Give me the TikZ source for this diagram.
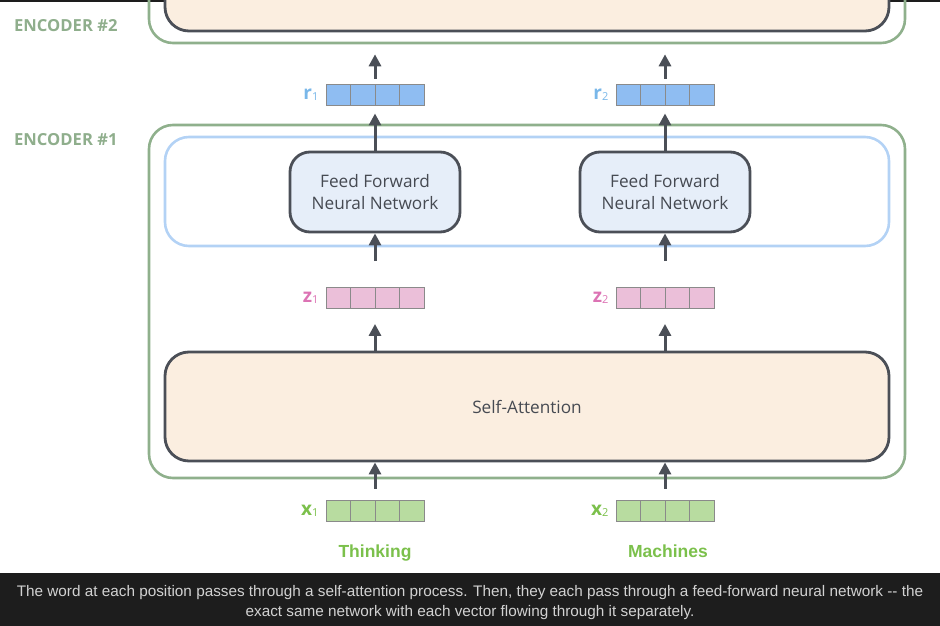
\documentclass[tikz,border=0pt]{standalone}
\usepackage{fontspec}
\setmainfont{Open Sans}
\newfontfamily\capfont{Liberation Sans}
\usetikzlibrary{positioning,arrows.meta}
\definecolor{encgreen}{HTML}{8FB08C}
\definecolor{enclabel}{HTML}{8FAE8C}
\definecolor{boxgray}{HTML}{4B4F57}
\definecolor{textgray}{HTML}{464A52}
\definecolor{attfill}{HTML}{FBEEE0}
\definecolor{fffill}{HTML}{E6EEF9}
\definecolor{ffline}{HTML}{B3D2F5}
\definecolor{rfill}{HTML}{8FBDF2}
\definecolor{rtext}{HTML}{79B7E9}
\definecolor{zfill}{HTML}{EBBFD9}
\definecolor{ztext}{HTML}{DC73B4}
\definecolor{xfill}{HTML}{B8DCA0}
\definecolor{xtext}{HTML}{7BC04B}
\definecolor{cellline}{HTML}{8A8A8A}
\definecolor{capbg}{HTML}{1D1D1D}
\definecolor{capgray}{HTML}{D2D2D2}
\newcommand\vlab[2]{#1\raisebox{-1pt}{\fontsize{11}{11}\selectfont\mdseries #2}}
\tikzset{
    encbox/.style={draw=encgreen, line width=2.6pt, rounded corners=24pt, minimum width=756pt, inner sep=0pt},
    attbox/.style={draw=boxgray, fill=attfill, line width=2.8pt, rounded corners=24pt, minimum width=724pt, inner sep=0pt, text=textgray, font=\fontsize{17.2}{20}\selectfont},
    ffgroup/.style={draw=ffline, line width=2.6pt, rounded corners=24pt, minimum width=724pt, minimum height=109pt},
    ffbox/.style={draw=boxgray, fill=fffill, line width=2.8pt, rounded corners=20pt, minimum width=170pt, minimum height=80pt, align=center, text=textgray, font=\fontsize{17.2}{22}\selectfont},
    enclab/.style={anchor=west, inner sep=0pt, text=enclabel, font=\fontsize{16.6}{18}\selectfont\bfseries},
    vec/.style={draw=cellline, line width=0.9pt, fill=#1, minimum width=98pt, minimum height=21pt, inner sep=0pt,
        path picture={\foreach \k in {1,2,3}
            \draw[cellline, line width=0.9pt] ([xshift={24.5pt*\k}]path picture bounding box.south west) -- ([xshift={24.5pt*\k}]path picture bounding box.north west);}},
    vlabel/.style={inner sep=0pt, label distance=7pt, text=#1, font=\fontsize{19}{19}\selectfont\bfseries},
    arr/.style={draw=boxgray, line width=3pt, -{Triangle[length=12pt,width=12pt]}},
    word/.style={anchor=base, font=\capfont\fontsize{17.5}{20}\selectfont\bfseries, text=xtext},
    captext/.style={font=\capfont\fontsize{15.3}{20}\selectfont, text=capgray, align=center}
}
\begin{document}
\begin{tikzpicture}[x=1pt,y=-1pt]
    \useasboundingbox (0,0) rectangle (940,626);
    \clip (0,0) rectangle (940,626);
    \fill[capbg] (0,0) rectangle (940,2.5);

    \node[encbox, minimum height=143pt] (enc2) at (527,-28.5) {};
    \node[attbox, minimum height=121pt] (att2) at (527,-29.5) {};
    \node[enclab] (lab2) at (14,26) {ENCODER \#2};

    \node[encbox, minimum height=353pt] (enc1) at (527,301.5) {};
    \node[enclab] (lab1) at (14,140) {ENCODER \#1};
    \node[ffgroup] (ffg) at (527,191.5) {};
    \node[attbox, minimum height=109pt] (att1) at (527,406.5) {Self-Attention};

    \foreach \i/\x/\w/\wx in {1/375/Thinking/375,2/665/Machines/668}{
        \node[ffbox] (ff\i) at (\x,192) {Feed Forward\\Neural Network};
        \node[vec=rfill, label={[vlabel=rtext]left:\vlab{r}{\i}}] (r\i) at (\x,94.5) {};
        \node[vec=zfill, label={[vlabel=ztext]left:\vlab{z}{\i}}] (z\i) at (\x,298) {};
        \node[vec=xfill, label={[vlabel=xtext]left:\vlab{x}{\i}}] (x\i) at (\x,510.5) {};
        \node[word] (w\i) at (\wx,557) {\w};

        \draw[arr, shorten <=5pt, shorten >=10pt] (r\i.north) -- (r\i.north |- enc2.south);
        \draw[arr, shorten >=8pt] (ff\i.north) -- (r\i.south);
        \draw[arr, shorten <=26pt] (z\i.north) -- (ff\i.south);
        \draw[arr, shorten >=15pt] (att1.north -| z\i) -- (z\i.south);
        \draw[arr, shorten <=11pt] (x\i.north) -- (x\i.north |- att1.south);
    }

    \fill[capbg] (0,573) rectangle (940,626);
    \node[captext] (cap) at (470,602.5) {The word at each position passes through a self-attention process. Then, they each pass through a feed-forward neural network -{}- the\\exact same network with each vector flowing through it separately.};
\end{tikzpicture}
\end{document}
